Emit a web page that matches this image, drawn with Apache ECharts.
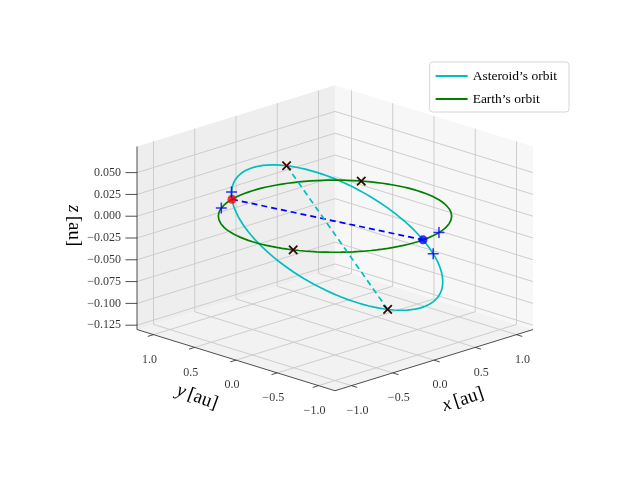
<!DOCTYPE html>
<html style="height: 100%">
<head>
<meta charset="utf-8">
</head>
<body style="height: 100%; margin: 0; background: #fff">
<div id="container" style="width: 640px; height: 480px"></div>
<script src="https://cdn.jsdelivr.net/npm/echarts@6/dist/echarts.min.js"></script>
<script>
// axis ticks
var xTicks = [-1.0, -0.5, 0.0, 0.5, 1.0];
var yTicks = [-1.0, -0.5, 0.0, 0.5, 1.0];
var zTicks = [-0.125, -0.100, -0.075, -0.050, -0.025, 0.000, 0.025, 0.050];
var xLim = [-1.2, 1.2], yLim = [-1.2, 1.2], zLim = [-0.13, 0.08];

// Earth's orbit: unit circle in z = 0
var earthRadius = 1.0;
// node positions on Earth's orbit (deg): red, blue
var nodeAngles = [107, -86];
// asteroid orbit: second semi-axis vector (au) and phase of the nodes (deg)
var asteroidAxisB = [-0.57, -0.12, 0.1];
var nodePhase = 15;
// asteroid marker phases (deg) along its orbit
var asteroidCrossT = [98, -82];
var asteroidPlusT = [158, 4];
// Earth marker angles (deg)
var earthCrossT = [32, 204];
var earthPlusT = [122, -72];

var dom = document.getElementById('container');
var myChart = echarts.init(dom);

var az = -135 * Math.PI / 180, el = 18 * Math.PI / 180, H = 2.75;
function proj(p) {
  var u = p[0] / (xLim[1] - xLim[0]) * 4;
  var v = p[1] / (yLim[1] - yLim[0]) * 4;
  var w = (p[2] - (zLim[0] + zLim[1]) / 2) / (zLim[1] - zLim[0]) * H;
  var sx = -Math.sin(az) * u + Math.cos(az) * v;
  var d = Math.cos(az) * u + Math.sin(az) * v;
  var sy = -Math.sin(el) * d + Math.cos(el) * w;
  return [sx, sy];
}
function rad(a) { return a * Math.PI / 180; }
function earthAt(t) { return [earthRadius * Math.cos(rad(t)), earthRadius * Math.sin(rad(t)), 0]; }
var R = earthAt(nodeAngles[0]), Bl = earthAt(nodeAngles[1]);
var ca = Math.cos(rad(nodePhase)), sa = Math.sin(rad(nodePhase));
// ellipse C + A cos t + B sin t crossing z = 0 at Bl (t = nodePhase) and R (t = 180 - nodePhase)
var A = [0, 1, 2].map(function (k) { return (Bl[k] - R[k]) / (2 * ca); });
var C = [0, 1, 2].map(function (k) { return (Bl[k] + R[k]) / 2 - asteroidAxisB[k] * sa; });
function astAt(t) {
  var c = Math.cos(rad(t)), s = Math.sin(rad(t));
  return [0, 1, 2].map(function (k) { return C[k] + A[k] * c + asteroidAxisB[k] * s; });
}

var earthLine = [], astLine = [];
for (var t = 0; t <= 360; t += 3) {
  earthLine.push(proj(earthAt(t)));
  astLine.push(proj(astAt(t)));
}

var x0 = xLim[0], x1 = xLim[1], y0 = yLim[0], y1 = yLim[1], z0 = zLim[0], z1 = zLim[1];
var panes = [
  { pts: [[x0, y0, z0], [x1, y0, z0], [x1, y1, z0], [x0, y1, z0]], color: '#f2f2f2' },
  { pts: [[x1, y0, z0], [x1, y1, z0], [x1, y1, z1], [x1, y0, z1]], color: '#f7f7f7' },
  { pts: [[x0, y1, z0], [x1, y1, z0], [x1, y1, z1], [x0, y1, z1]], color: '#eeeeee' }
];
var grid = [];
xTicks.forEach(function (x) {
  grid.push([[x, y0, z0], [x, y1, z0]]);
  grid.push([[x, y1, z0], [x, y1, z1]]);
});
yTicks.forEach(function (y) {
  grid.push([[x0, y, z0], [x1, y, z0]]);
  grid.push([[x1, y, z0], [x1, y, z1]]);
});
zTicks.forEach(function (z) {
  grid.push([[x1, y0, z], [x1, y1, z]]);
  grid.push([[x0, y1, z], [x1, y1, z]]);
});
var axes = [
  [[x0, y0, z0], [x1, y0, z0]],
  [[x0, y0, z0], [x0, y1, z0]],
  [[x0, y1, z0], [x0, y1, z1]]
];
xTicks.forEach(function (x) { axes.push([[x, y0, z0], [x, y0 - 0.07, z0]]); });
yTicks.forEach(function (y) { axes.push([[x0, y, z0], [x0 - 0.07, y, z0]]); });
zTicks.forEach(function (z) { axes.push([[x0, y1, z], [x0 - 0.07, y1 + 0.07, z]]); });

function fmt(v, n) { var s = Math.abs(v).toFixed(n); return (v < -1e-9 ? '\u2212' : '') + s; }
var tickLabels = [];
xTicks.forEach(function (x) { tickLabels.push({ value: proj([x, y0, z0]), name: fmt(x, 1), off: [6, 25], align: 'center' }); });
yTicks.forEach(function (y) { tickLabels.push({ value: proj([x0, y, z0]), name: fmt(y, 1), off: [-4, 25], align: 'center' }); });
zTicks.forEach(function (z) { tickLabels.push({ value: proj([x0, y1, z]), name: fmt(z, 3), off: [-16, 0], align: 'right' }); });

function segSeries(list, color, width, z) {
  return {
    type: 'custom', silent: true, z: z,
    data: list.map(function (s) { var a = proj(s[0]), b = proj(s[1]); return [a[0], a[1], b[0], b[1]]; }),
    renderItem: function (params, api) {
      var a = api.coord([api.value(0), api.value(1)]), b = api.coord([api.value(2), api.value(3)]);
      return { type: 'line', shape: { x1: a[0], y1: a[1], x2: b[0], y2: b[1] }, style: { stroke: color, lineWidth: width } };
    }
  };
}

var plusPath = 'path://M-1,-0.14H1V0.14H-1ZM-0.14,-1H0.14V1H-0.14Z';
var serif = 'Liberation Serif';
var axisRich = { i: { fontFamily: serif, fontStyle: 'italic', fontSize: 19 }, r: { fontFamily: serif, fontSize: 19 } };
var crossPts = asteroidCrossT.map(function (t) { return proj(astAt(t)); })
  .concat(earthCrossT.map(function (t) { return proj(earthAt(t)); }));
var plusPts = asteroidPlusT.map(function (t) { return proj(astAt(t)); })
  .concat(earthPlusT.map(function (t) { return proj(earthAt(t)); }));

var option = {
  animation: false,
  grid: { left: 0, right: 0, top: 0, bottom: 0 },
  xAxis: { type: 'value', min: -335 / 70, max: 305 / 70, show: false },
  yAxis: { type: 'value', min: -242 / 70, max: 238 / 70, show: false },
  legend: {
    data: ["Asteroid\u2019s orbit", "Earth\u2019s orbit"],
    orient: 'vertical', right: 71, top: 62, itemGap: 9, itemWidth: 32, itemHeight: 2,
    icon: 'rect', padding: [7, 12, 6, 6],
    backgroundColor: '#fff', borderColor: '#d6d6d6', borderWidth: 1, borderRadius: 3,
    textStyle: { fontFamily: serif, fontSize: 13.5, color: '#000' }
  },
  graphic: [
    { type: 'text', left: 440, top: 384, rotation: 0.32, style: { text: '{i|x} {r|[au]}', rich: axisRich, fill: '#000' } },
    { type: 'text', left: 174, top: 381, rotation: -0.35, style: { text: '{i|y} {r|[au]}', rich: axisRich, fill: '#000' } },
    { type: 'text', left: 64, top: 205, rotation: -Math.PI / 2, style: { text: '{i|z} {r|[au]}', rich: axisRich, fill: '#000' } }
  ],
  series: [
    {
      type: 'custom', silent: true, z: 1,
      data: panes.map(function (p, i) { return i; }),
      renderItem: function (params, api) {
        var p = panes[params.dataIndex];
        return { type: 'polygon', shape: { points: p.pts.map(function (q) { return api.coord(proj(q)); }) }, style: { fill: p.color } };
      }
    },
    segSeries(grid, '#cdcdcd', 1, 2),
    segSeries(axes, '#222', 0.8, 3),
    {
      type: 'scatter', z: 4, symbolSize: 0, silent: true,
      data: tickLabels.map(function (t) {
        return { value: t.value, label: { show: true, formatter: t.name, offset: t.off, align: t.align, verticalAlign: 'middle', position: 'inside', fontFamily: serif, fontSize: 12, color: '#000' } };
      })
    },
    { name: "Asteroid\u2019s orbit", type: 'line', z: 5, data: astLine, showSymbol: false, lineStyle: { color: '#00bfbf', width: 1.7 }, itemStyle: { color: '#00bfbf' } },
    { name: "Earth\u2019s orbit", type: 'line', z: 5, data: earthLine, showSymbol: false, lineStyle: { color: '#008000', width: 1.7 }, itemStyle: { color: '#008000' } },
    { type: 'line', z: 6, data: [proj(R), proj(Bl)], showSymbol: false, lineStyle: { color: '#0000ff', width: 1.7, type: [6, 4] } },
    { type: 'line', z: 6, data: crossPts.slice(0, 2), showSymbol: false, lineStyle: { color: '#00bfbf', width: 1.7, type: [6, 4] } },
    { type: 'scatter', z: 7, symbol: 'circle', symbolSize: 9, data: [{ value: proj(R), itemStyle: { color: '#ff0000' } }, { value: proj(Bl), itemStyle: { color: '#0000ff' } }] },
    { type: 'scatter', z: 7, symbol: plusPath, symbolSize: 11, itemStyle: { color: '#0000ff' }, data: plusPts },
    { type: 'scatter', z: 7, symbol: plusPath, symbolSize: 11, symbolRotate: 45, itemStyle: { color: '#ff0000' }, data: crossPts },
    { type: 'scatter', z: 8, symbol: plusPath, symbolSize: 12, symbolRotate: 45, itemStyle: { color: '#000' }, data: crossPts }
  ]
};
myChart.setOption(option);
</script>
</body>
</html>
